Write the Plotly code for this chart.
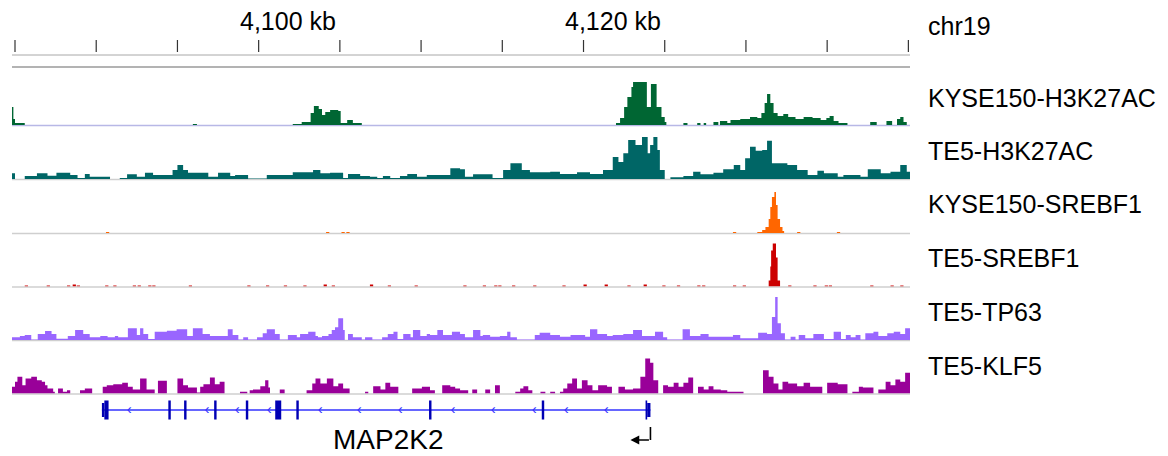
import plotly.graph_objects as go

# ---------------- data ----------------
X_RANGE = [4084.815, 4140.1]           # kb window on chr19
CHROM = "chr19"
RULER_TICKS_KB = [4085, 4090, 4095, 4100, 4105, 4110, 4115, 4120, 4125, 4130, 4135, 4140]
RULER_LABEL_KB = [4100, 4120]
RULER_LABEL_TEXT = ["4,100 kb", "4,120 kb"]

TRACK_NAMES = ["KYSE150-H3K27AC", "TE5-H3K27AC", "KYSE150-SREBF1",
               "TE5-SREBF1", "TE5-TP63", "TE5-KLF5"]
TRACK_COLORS = ["#006633", "#006666", "#ff6600", "#cc0000", "#9966ff", "#990099"]

# coverage as (segment start kb, signal) steps
KYSE150_H3K27AC = [
    (4084.8, 18), (4084.9, 6), (4085.0, 2), (4085.6, 0), (4095.95, 1), (4096.2, 0),
    (4102.1, 1), (4102.65, 3), (4103.2, 12), (4103.4, 19), (4103.7, 16), (4103.9, 10),
    (4104.1, 13), (4104.4, 15), (4104.9, 14), (4105.05, 2), (4105.45, 5), (4105.8, 2),
    (4106.35, 0), (4122.0, 2), (4122.25, 7), (4122.5, 18), (4122.7, 28), (4122.95, 38),
    (4123.05, 43), (4123.9, 18), (4124.15, 41), (4124.5, 18), (4124.8, 8), (4125.0, 3),
    (4125.1, 0), (4126.15, 2), (4126.4, 0), (4127.0, 2), (4127.2, 0), (4127.4, 2),
    (4127.55, 0), (4128.0, 3), (4128.3, 0), (4128.4, 4), (4128.85, 2), (4129.05, 5),
    (4129.65, 6), (4130.25, 8), (4130.7, 7), (4130.95, 12), (4131.15, 22), (4131.3, 31),
    (4131.5, 22), (4131.7, 12), (4131.95, 9), (4132.3, 11), (4132.6, 8), (4133.05, 6),
    (4133.55, 8), (4134.1, 7), (4134.6, 5), (4134.95, 7), (4135.15, 9), (4135.4, 4),
    (4135.7, 2), (4136.25, 0), (4137.65, 3), (4138.05, 0), (4138.65, 4), (4139.0, 0),
    (4139.3, 6), (4139.5, 8), (4139.7, 3), (4139.9, 0),
]

TE5_H3K27AC = [
    (4084.8, 5.7), (4085.0, 0), (4085.6, 3), (4086.35, 5.7), (4087.0, 3.3), (4087.55, 6.3),
    (4088.4, 4), (4088.85, 1), (4089.3, 5), (4089.6, 2.3), (4090.85, 0), (4091.45, 1),
    (4091.9, 4.7), (4092.5, 2.3), (4093.0, 6.3), (4093.5, 4), (4094.7, 9), (4095.0, 14),
    (4095.35, 9), (4095.65, 6.3), (4096.9, 2.3), (4097.5, 6.3), (4098.25, 3), (4098.55, 4),
    (4099.35, 0.5), (4100.5, 4), (4102.1, 6.7), (4103.35, 9), (4103.8, 5.7), (4104.4, 6.3),
    (4105.2, 1), (4105.5, 5), (4106.25, 3), (4106.85, 2.3), (4107.3, 1), (4107.65, 3),
    (4108.1, 1), (4108.7, 3), (4109.15, 5), (4109.75, 2.3), (4110.35, 4), (4111.8, 10.7),
    (4112.4, 9.7), (4112.7, 2.3), (4113.2, 4.7), (4114.4, 1), (4115.05, 9), (4115.5, 15.7),
    (4116.2, 9), (4116.7, 6.7), (4117.95, 7.3), (4118.55, 5), (4119.6, 6.7), (4120.4, 5),
    (4121.2, 9), (4121.8, 22), (4122.15, 17), (4122.45, 25.7), (4122.75, 39), (4123.2, 34),
    (4123.6, 42), (4123.95, 25.7), (4124.1, 34), (4124.3, 42), (4124.55, 29), (4124.7, 9),
    (4125.0, 0), (4125.35, 1.7), (4126.15, 3), (4126.75, 7.3), (4127.2, 4.7), (4128.0, 6.3),
    (4128.6, 9.7), (4129.25, 14), (4129.65, 9), (4129.95, 20.7), (4130.25, 32.3),
    (4130.6, 28.3), (4131.0, 29), (4131.3, 38.3), (4131.6, 15.7), (4132.55, 14),
    (4133.15, 9), (4133.8, 4), (4134.4, 8.3), (4134.8, 5.7), (4135.65, 2.3), (4136.0, 4),
    (4137.05, 2.3), (4137.5, 9.7), (4138.3, 5.7), (4138.9, 7.3), (4139.5, 14), (4139.9, 7.3),
]

KYSE150_SREBF1_BLIPS = [(4090.6, 1), (4104.15, 1), (4105.1, 1), (4105.4, 1),
                        (4129.2, 1), (4133.15, 1), (4135.6, 1)]
KYSE150_SREBF1_PEAK = [
    (4130.7, 1), (4131.0, 3), (4131.2, 6), (4131.4, 14), (4131.5, 26), (4131.6, 36),
    (4131.75, 41), (4131.85, 28), (4131.95, 14), (4132.1, 6), (4132.25, 2), (4132.35, 0),
]

TE5_SREBF1_BLIPS = [
    (4085.6, 1), (4086.95, 1), (4088.2, 1), (4088.55, 2), (4088.8, 1),
    (4090.55, 1), (4091.05, 1), (4092.25, 1), (4092.55, 1), (4093.2, 1),
    (4093.45, 1), (4095.7, 1), (4099.3, 1), (4100.45, 1), (4101.55, 1),
    (4102.75, 1), (4104.0, 2), (4104.5, 1), (4106.85, 2), (4107.95, 1),
    (4109.6, 1), (4112.6, 1), (4113.8, 1), (4114.5, 1), (4114.75, 1),
    (4115.6, 1), (4116.9, 1), (4118.7, 1), (4120.0, 2), (4121.3, 2), (4122.7, 1),
    (4123.7, 2), (4124.85, 1), (4125.75, 1), (4127.0, 1), (4127.3, 1),
    (4129.2, 1), (4129.8, 1), (4132.6, 1), (4134.15, 1), (4134.85, 1),
    (4135.1, 1), (4137.65, 1), (4138.9, 1), (4139.5, 1),
]
TE5_SREBF1_PEAK = [
    (4131.4, 6), (4131.5, 20), (4131.55, 36), (4131.65, 43), (4131.85, 29),
    (4131.95, 6), (4132.1, 0),
]

TE5_TP63 = [
    (4084.8, 2.7), (4085.3, 4), (4085.6, 5), (4086.0, 0.5), (4086.4, 6), (4086.85, 9),
    (4087.25, 6), (4087.55, 1.3), (4088.25, 4), (4088.7, 10), (4089.2, 6), (4089.6, 2.7),
    (4090.25, 4), (4090.7, 2.7), (4091.15, 4), (4091.35, 2.7), (4091.95, 11.7), (4092.5, 5),
    (4092.7, 11.7), (4092.9, 6), (4093.2, 1), (4093.6, 8.3), (4094.35, 9.3), (4094.95, 10.7),
    (4095.6, 4), (4095.95, 11.7), (4096.55, 6), (4097.0, 4), (4098.1, 10.7), (4098.4, 5),
    (4098.75, 0.5), (4099.05, 2.7), (4099.35, 0.5), (4099.9, 2.7), (4100.25, 6.7),
    (4100.5, 10.7), (4101.0, 6), (4101.3, 0.5), (4101.8, 5), (4102.35, 2.7), (4102.55, 6),
    (4103.05, 8.3), (4103.5, 4), (4103.65, 2.7), (4103.9, 4), (4104.3, 6), (4104.5, 10),
    (4104.7, 12.7), (4104.9, 21.7), (4105.2, 10), (4105.3, 0), (4105.5, 6), (4105.8, 2.7),
    (4106.35, 0.5), (4106.55, 2.7), (4107.0, 0.5), (4107.6, 2.7), (4107.95, 6), (4108.3, 8.3),
    (4108.55, 1), (4108.9, 6), (4109.35, 2.7), (4109.5, 10), (4109.95, 4), (4110.35, 6),
    (4110.55, 5), (4111.0, 10), (4111.35, 5), (4111.9, 8.3), (4112.4, 6), (4112.7, 2.7),
    (4113.2, 10), (4113.65, 4), (4113.8, 5), (4114.25, 3.3), (4114.85, 4), (4115.3, 8.3),
    (4115.5, 2.7), (4115.9, 0.5), (4117.0, 5), (4117.3, 7.3), (4117.95, 5), (4118.55, 3.3),
    (4119.2, 5), (4120.1, 3.3), (4120.4, 10.7), (4120.85, 6), (4121.45, 4), (4121.8, 5),
    (4122.45, 6), (4123.05, 10), (4123.6, 4), (4124.4, 8.3), (4124.9, 2.7), (4125.15, 0.5),
    (4126.1, 10.7), (4126.55, 4), (4127.2, 6), (4127.7, 3.3), (4129.2, 5), (4129.65, 1.7),
    (4130.75, 7.3), (4131.3, 6), (4131.6, 23), (4131.8, 43), (4131.95, 16.7), (4132.15, 6.7),
    (4132.4, 0.5), (4132.75, 3.3), (4133.05, 0.5), (4133.25, 5), (4133.65, 1.7), (4134.15, 6),
    (4134.8, 1), (4135.4, 8.3), (4135.85, 1), (4136.15, 5), (4136.45, 2.7), (4136.75, 5),
    (4137.05, 0.5), (4137.35, 6.7), (4137.85, 8.3), (4138.15, 4), (4138.7, 6.7), (4139.1, 8.3),
    (4139.5, 6), (4139.8, 11.7),
]

TE5_KLF5 = [
    (4084.8, 6.7), (4085.0, 11.7), (4085.15, 16.7), (4085.45, 8.3), (4085.65, 15),
    (4086.0, 16.7), (4086.35, 13.3), (4086.65, 11.7), (4086.85, 8.3), (4087.0, 5),
    (4087.35, 1.7), (4087.45, 0), (4087.65, 5), (4087.95, 1.7), (4088.2, 3.3), (4088.4, 0),
    (4089.0, 3.3), (4089.3, 5), (4089.75, 0), (4090.4, 6.7), (4090.65, 8.3), (4091.05, 9.3),
    (4091.6, 10.7), (4091.95, 6.7), (4092.25, 4), (4092.7, 15), (4093.1, 4), (4093.6, 0),
    (4093.8, 12.7), (4094.35, 0), (4095.0, 15), (4095.35, 8.3), (4095.65, 6), (4096.2, 1),
    (4096.4, 6.7), (4096.6, 9.3), (4097.0, 16), (4097.3, 9.3), (4097.6, 11.7), (4097.9, 0),
    (4098.85, 1.7), (4099.3, 0), (4099.45, 3.3), (4099.65, 4), (4100.1, 7.3), (4100.4, 13.3),
    (4100.6, 6), (4100.7, 0), (4101.3, 4), (4101.6, 0), (4102.95, 3.3), (4103.3, 10),
    (4103.5, 15), (4103.8, 10), (4104.2, 15), (4104.6, 7.3), (4104.9, 10), (4105.2, 5),
    (4105.6, 0), (4106.55, 1.7), (4106.75, 0), (4107.05, 7.3), (4107.5, 4), (4107.8, 10.7),
    (4108.1, 6.7), (4108.6, 0), (4109.45, 5), (4110.05, 6.7), (4110.55, 3.3), (4110.85, 0),
    (4111.3, 8.3), (4111.8, 6.7), (4112.1, 5), (4112.4, 3.3), (4112.9, 0), (4113.15, 4),
    (4113.45, 0), (4113.95, 4), (4114.25, 0), (4114.55, 8.3), (4114.85, 0), (4115.8, 1.7),
    (4116.1, 5), (4116.3, 7.3), (4116.6, 3.3), (4116.85, 0), (4117.35, 1.7), (4117.65, 0),
    (4117.95, 1.7), (4118.25, 0), (4118.55, 1.7), (4118.75, 5), (4119.0, 10), (4119.3, 15),
    (4119.6, 5), (4119.9, 13.3), (4120.25, 8.3), (4120.55, 3.3), (4120.9, 8.3), (4121.45, 6.7),
    (4121.75, 0), (4122.15, 6.7), (4122.55, 4), (4123.05, 5), (4123.5, 16.7), (4123.8, 35),
    (4124.1, 30.7), (4124.3, 13.3), (4124.6, 0), (4124.9, 8.3), (4125.2, 6.7), (4125.55, 10.7),
    (4125.85, 6.7), (4126.15, 10.7), (4126.45, 16), (4126.75, 0), (4127.05, 6.7), (4127.4, 4),
    (4127.7, 7.3), (4128.0, 4), (4128.45, 3.3), (4128.85, 1.7), (4129.85, 0), (4131.05, 23.3),
    (4131.4, 16.7), (4131.7, 10), (4132.0, 4), (4132.25, 11.7), (4132.6, 10), (4133.15, 7.3),
    (4133.55, 10.7), (4133.95, 6.7), (4134.7, 0), (4135.0, 10.7), (4135.65, 9.3), (4136.25, 0),
    (4136.55, 1.7), (4136.95, 6.7), (4137.2, 6), (4137.85, 0), (4138.15, 4), (4138.6, 11.7),
    (4138.9, 8.3), (4139.2, 14), (4139.5, 11.7), (4139.8, 20.7),
]

# gene model (MAP2K2, minus strand)
GENE_NAME = "MAP2K2"
GENE_START, GENE_END = 4090.35, 4124.12
EXON_START = [4090.35, 4090.50, 4094.44, 4095.41, 4097.26, 4099.21, 4101.02, 4102.32,
              4110.49, 4117.43, 4123.82, 4123.92]
EXON_END = [4090.50, 4090.76, 4094.59, 4095.56, 4097.41, 4099.36, 4101.39, 4102.47,
            4110.64, 4117.58, 4123.92, 4124.12]
EXON_KIND = ["utr", "cds", "cds", "cds", "cds", "cds", "cds", "cds",
             "cds", "cds", "cds", "utr"]
STRAND_MARKS = [4092.03, 4096.82, 4098.68, 4100.65, 4103.79, 4106.19, 4108.72,
                4111.96, 4114.44, 4116.97, 4118.94, 4121.40]

# ---------------- build ----------------
W, H = 1168, 456
FONT = "Liberation Sans, Arial, sans-serif"
BLIP_W = 0.2


def py(px):
    return 1 - px / H


def steps_from_blips(blips, peak):
    segs = [(X_RANGE[0], 0)]
    for p, v in blips:
        segs += [(p, v), (p + BLIP_W, 0)]
    segs += peak
    return sorted(segs, key=lambda s: s[0])


TRACKS = [
    KYSE150_H3K27AC,
    TE5_H3K27AC,
    steps_from_blips(KYSE150_SREBF1_BLIPS, KYSE150_SREBF1_PEAK),
    steps_from_blips(TE5_SREBF1_BLIPS, TE5_SREBF1_PEAK),
    TE5_TP63,
    TE5_KLF5,
]

BASELINE_PX = [125, 179, 233, 286.5, 340, 393.5]
LABEL_PX = [98, 151, 204, 258, 312, 366]
TRACK_H = 53

fig = go.Figure()
layout_axes = {}
shapes = []
annotations = []

# ruler
tx, ty = [], []
for t in RULER_TICKS_KB:
    tx += [t, t, None]
    ty += [0, 1, None]
fig.add_trace(go.Scatter(x=tx, y=ty, xaxis="x", yaxis="y", mode="lines",
                         line=dict(color="#333333", width=1.2), hoverinfo="skip"))
layout_axes["yaxis"] = dict(domain=[py(52), py(40)], range=[0, 1], visible=False,
                            fixedrange=True)
for ypx, col, w in [(55, "#a8a8a8", 1), (67, "#9a9a9a", 1.5)]:
    shapes.append(dict(type="line", xref="x", yref="paper", x0=X_RANGE[0], x1=X_RANGE[1],
                       y0=py(ypx), y1=py(ypx), line=dict(color=col, width=w)))
for kb, txt in zip(RULER_LABEL_KB, RULER_LABEL_TEXT):
    annotations.append(dict(x=kb, xref="x", y=py(21), yref="paper", text=txt,
                            showarrow=False, xanchor="center", yanchor="middle",
                            xshift=29, font=dict(family=FONT, size=25, color="black")))
annotations.append(dict(x=(926 - 12) / 898, xref="paper", y=py(26), yref="paper",
                        text=CHROM, showarrow=False, xanchor="left", yanchor="middle",
                        font=dict(family=FONT, size=25, color="black")))

# tracks
for i, (segs, name, col) in enumerate(zip(TRACKS, TRACK_NAMES, TRACK_COLORS)):
    ax = f"y{i + 2}"
    xs = [s[0] for s in segs] + [X_RANGE[1]]
    ys = [s[1] for s in segs] + [segs[-1][1]]
    base = BASELINE_PX[i]
    layout_axes[f"yaxis{i + 2}"] = dict(domain=[py(base), py(base - TRACK_H)],
                                        range=[0, TRACK_H], visible=False, fixedrange=True)
    shapes.append(dict(type="line", xref="x", yref="paper", x0=X_RANGE[0], x1=X_RANGE[1],
                       y0=py(base + 0.5), y1=py(base + 0.5), layer="below",
                       line=dict(color="#b8b8e6" if i == 0 else "#cfcfcf", width=1.5)))
    fig.add_trace(go.Scatter(x=xs, y=ys, xaxis="x", yaxis=ax, mode="lines",
                             line=dict(width=0, shape="hv", color=col),
                             fill="tozeroy", fillcolor=col, hoverinfo="skip"))
    annotations.append(dict(x=(926 - 12) / 898, xref="paper", y=py(LABEL_PX[i]),
                            yref="paper", text=name, showarrow=False, xanchor="left",
                            yanchor="middle",
                            font=dict(family=FONT, size=25, color="black")))

# gene track
layout_axes["yaxis8"] = dict(domain=[py(424), py(396)], range=[-1, 1], visible=False,
                             fixedrange=True)
fig.add_trace(go.Scatter(x=[GENE_START, GENE_END], y=[0, 0], xaxis="x", yaxis="y8",
                         mode="lines", line=dict(color="#3333ff", width=1.5),
                         hoverinfo="skip"))
fig.add_trace(go.Scatter(x=STRAND_MARKS, y=[0] * len(STRAND_MARKS), xaxis="x", yaxis="y8",
                         mode="text", text=["‹"] * len(STRAND_MARKS),
                         textposition="middle center",
                         textfont=dict(family=FONT, size=15, color="#3333ff"),
                         hoverinfo="skip"))
for s, e, k in zip(EXON_START, EXON_END, EXON_KIND):
    h = 0.68 if k == "cds" else 0.5
    shapes.append(dict(type="rect", xref="x", yref="y8", x0=s, x1=e, y0=-h, y1=h,
                       fillcolor="#0000b4", line=dict(width=0)))
annotations.append(dict(x=(GENE_START + GENE_END) / 2, xref="x", y=py(439), yref="paper",
                        text=GENE_NAME, showarrow=False, xanchor="center",
                        yanchor="middle", xshift=12,
                        font=dict(family=FONT, size=28, color="black")))
# TSS bent arrow
shapes.append(dict(type="line", xref="x", yref="paper", x0=GENE_END, x1=GENE_END,
                   y0=py(427), y1=py(440), line=dict(color="black", width=1.6)))
annotations.append(dict(x=GENE_END, xref="x", y=py(440), yref="paper", text="",
                        showarrow=True, ax=20, ay=0, xshift=-20, arrowhead=2,
                        arrowsize=1.1, arrowwidth=1.6, arrowcolor="black"))

fig.update_layout(
    width=W, height=H,
    margin=dict(l=12, r=258, t=0, b=0),
    plot_bgcolor="white", paper_bgcolor="white",
    showlegend=False,
    xaxis=dict(range=X_RANGE, visible=False, fixedrange=True, anchor="y"),
    shapes=shapes, annotations=annotations,
    **layout_axes,
)

fig.write_html("out.html",
               config={"displayModeBar": False},
               post_script="document.body.style.margin='0px';"
                           "document.body.style.padding='0px';")
